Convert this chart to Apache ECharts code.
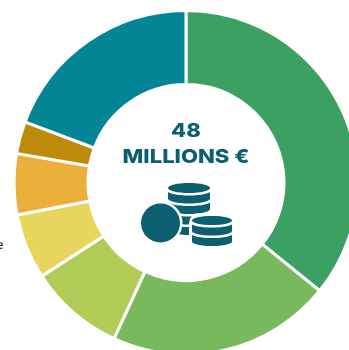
<!DOCTYPE html>
<html>
<head>
<meta charset="utf-8">
<style>html,body{margin:0;padding:0;background:#fff}#c{width:349px;height:350px}</style>
<script src="https://cdn.jsdelivr.net/npm/echarts@6/dist/echarts.min.js"></script>
</head>
<body>
<div id="c"></div>
<script>
// Budget split, in millions of euros, clockwise from twelve o'clock
const shares = [17.2, 10.1, 4.3, 2.95, 2.75, 1.45, 9.25];
const colours = ['#3ba062', '#78b95e', '#b0cb56', '#e8d55e', '#ebb03c', '#be8a0a', '#048596'];
const totalLine = '48';
const unitLine = 'MILLIONS €';
const ink = '#0b5f70';

const chart = echarts.init(document.getElementById('c'), null, { renderer: 'canvas' });

// One rim band of a coin, painted back to front: ink body, then a white cut above it
function band(cx, cy, rx, ry, h) {
  return [
    { type: 'ellipse', shape: { cx, cy: cy + h, rx, ry }, style: { fill: ink } },
    { type: 'rect', shape: { x: cx - rx, y: cy, width: rx * 2, height: h }, style: { fill: ink } },
    { type: 'ellipse', shape: { cx, cy, rx: rx + 1, ry }, style: { fill: '#fff' } }
  ];
}
// A stack of rim bands, lowest first, topped by a flat face
function stack(cx, faceY, rx, ry, bands) {
  const parts = [];
  for (let i = bands - 1; i >= 0; i--) {
    parts.push(...band(cx, faceY + 2.5 + i * 10.5, rx, ry, 8));
  }
  parts.push({ type: 'ellipse', shape: { cx, cy: faceY, rx, ry }, style: { fill: ink } });
  return parts;
}
// Heading text, stretched sideways around the chart's centre line
function heading(text, y) {
  return { type: 'text', x: 186, y, scaleX: 1.16,
    style: { x: 0, y: 0, text, align: 'center', verticalAlign: 'middle',
      font: '800 19px Inter, "Open Sans", sans-serif', fill: ink } };
}

chart.setOption({
  animation: false,
  series: [{
    type: 'pie',
    center: [186, 182.5],
    radius: [98, 172],
    startAngle: 90,
    clockwise: true,
    silent: true,
    label: { show: false },
    labelLine: { show: false },
    itemStyle: { borderColor: '#fff', borderWidth: 3 },
    data: shares.map((value, i) => ({ value, itemStyle: { color: colours[i] } }))
  }],
  graphic: [
    heading(totalLine, 131),
    heading(unitLine, 157),
    { type: 'text', style: { x: -4, y: 245, text: 'e', align: 'left', verticalAlign: 'middle',
        font: '600 13px "Open Sans", sans-serif', fill: '#333' } },
    { type: 'group', children: [
      ...stack(189, 188, 21, 5, 4),
      { type: 'circle', shape: { cx: 160.5, cy: 223, r: 22 }, style: { fill: '#fff' } },
      { type: 'circle', shape: { cx: 160.5, cy: 223, r: 19.5 }, style: { fill: ink } },
      { type: 'rect', shape: { x: 189, y: 213, width: 47, height: 37, r: 10 }, style: { fill: '#fff' } },
      ...stack(212, 220.5, 20, 4.5, 2)
    ] }
  ]
});
</script>
</body>
</html>
